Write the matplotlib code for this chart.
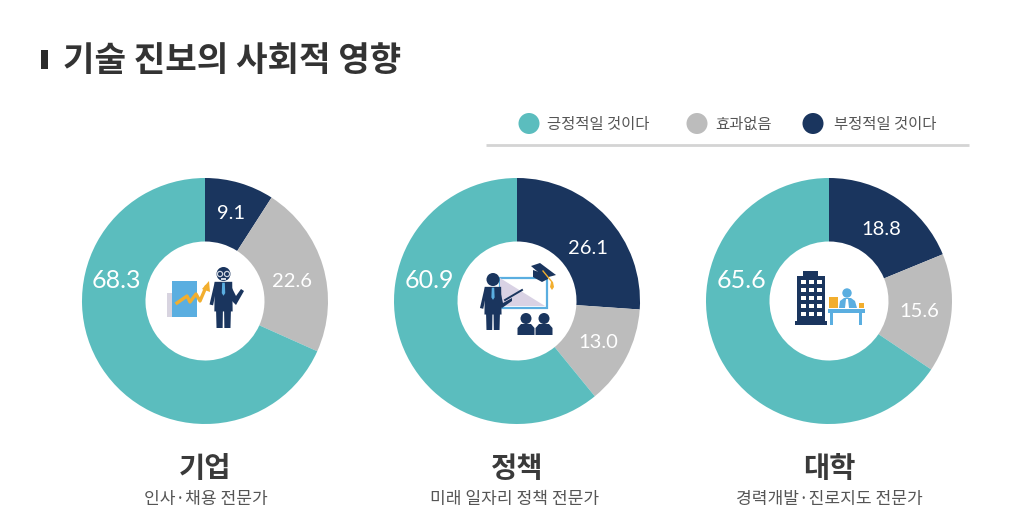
import math
import matplotlib
matplotlib.use('Agg')
import matplotlib.pyplot as plt
import matplotlib.patches as mpatches

plt.rcParams['font.family'] = ['Noto Sans CJK KR', 'DejaVu Sans']

W, H = 1023, 526
TEAL = '#5bbdbe'
GRAY = '#bcbcbc'
NAVY = '#1a355e'
BLUE = '#5aaee0'
ORANGE = '#f2ae2e'

title = '기술 진보의 사회적 영향'
legend_labels = ['긍정적일 것이다', '효과없음', '부정적일 것이다']
group_names = ['기업', '정책', '대학']
group_subs = ['인사·채용 전문가', '미래 일자리 정책 전문가', '경력개발·진로지도 전문가']
negative = [9.1, 26.1, 18.8]
neutral = [22.6, 13.0, 15.6]
positive = [68.3, 60.9, 65.6]

# label nudges in pixels, one per slice (negative, neutral, positive)
nudges = [[(0, 0), (0, 6), (0, 3)],
          [(4, 10), (0, 0), (1, 3)],
          [(2, 4), (0, 1), (1, 3)]]
sub_shift = [0.5, -2, 0]

fig = plt.figure(figsize=(W / 100, H / 100), dpi=100, facecolor='white')

# overlay in pixel coords for text and icons
bg = fig.add_axes([0, 0, 1, 1], zorder=3)
bg.set_xlim(0, W)
bg.set_ylim(H, 0)
bg.axis('off')


def rect(x0, y0, x1, y1, c, **kw):
    bg.add_patch(mpatches.Rectangle((x0, y0), x1 - x0, y1 - y0, fc=c, ec='none', **kw))


def poly(pts, c):
    bg.add_patch(mpatches.Polygon(pts, closed=True, fc=c, ec='none'))


def circle(x, y, r, c):
    bg.add_patch(mpatches.Circle((x, y), r, fc=c, ec='none'))


def person(cx, top, h, tie):
    # simple standing figure, top = top of head
    s = h / 70
    circle(cx, top + 8 * s, 8 * s, NAVY)
    poly([(cx - 10 * s, top + 17 * s), (cx + 10 * s, top + 17 * s), (cx + 10.5 * s, top + 51 * s),
          (cx + 8.5 * s, top + 51 * s), (cx + 8 * s, top + h), (cx + 1 * s, top + h), (cx + 0.7 * s, top + 51 * s),
          (cx - 0.7 * s, top + 51 * s), (cx - 1 * s, top + h), (cx - 8 * s, top + h), (cx - 8.5 * s, top + 51 * s),
          (cx - 10.5 * s, top + 51 * s)], NAVY)
    poly([(cx - 10 * s, top + 17 * s), (cx - 7 * s, top + 20 * s), (cx - 12 * s, top + 44 * s), (cx - 16 * s, top + 43 * s)], NAVY)
    poly([(cx - 1.5 * s, top + 18 * s), (cx + 1.5 * s, top + 18 * s), (cx + 2 * s, top + 30 * s), (cx, top + 33 * s), (cx - 2 * s, top + 30 * s)], tie)


# title
rect(41, 50, 48, 69, '#2b2b2b')
bg.text(63, 60, title, fontsize=24.7, fontweight='bold', color='#333333', va='center', ha='left')

# legend
legend_x = [529, 697, 813]
text_x = [547, 715, 834]
for lx, tx, c, lab in zip(legend_x, text_x, [TEAL, GRAY, NAVY], legend_labels):
    circle(lx, 123.5, 10.5, c)
    bg.text(tx, 124, lab, fontsize=11.1, color='#555555', va='center', ha='left')
bg.plot([486, 969], [144.5, 144.5], color='#d4d4d4', lw=2, solid_capstyle='butt')

# donuts
centers = [205, 517, 829]
R = 123
for i, cx in enumerate(centers):
    ax = fig.add_axes([(cx - R) / W, 1 - (301 + R) / H, 2 * R / W, 2 * R / H])
    vals = [negative[i], neutral[i], positive[i]]
    wedges, _ = ax.pie(vals, colors=[NAVY, GRAY, TEAL], startangle=90, counterclock=False, radius=1,
                       wedgeprops=dict(width=1 - 59.5 / R, linewidth=0))
    ax.set_xlim(-1, 1)
    ax.set_ylim(-1, 1)
    ax.set_aspect('equal')
    for j, (w, v) in enumerate(zip(wedges, vals)):
        a = math.radians((w.theta1 + w.theta2) / 2)
        tx, ty = 0.74 * math.cos(a), 0.74 * math.sin(a)
        if j == 2:
            tx, ty = -0.72, 0.19
        tx += nudges[i][j][0] / R
        ty -= nudges[i][j][1] / R
        ax.text(tx, ty, '%.1f' % v, fontsize=18 if j == 2 else 14.5, color='white', ha='center', va='center',
                family=['Lato', 'DejaVu Sans'])
    bg.text(cx, 469, group_names[i], fontsize=20.5, fontweight='bold', color='#3a3a3a', ha='center', va='center')
    bg.text(cx + sub_shift[i], 499, group_subs[i], fontsize=12.3, color='#555555', ha='center', va='center')

# icon 1: chart and man
rect(167, 293, 172, 317, '#d8d4e0')
rect(172, 281, 197, 317, BLUE)
bg.plot([177, 187, 190, 196, 200, 206], [303, 296, 302, 294, 301, 287], color=ORANGE, lw=2.4)
poly([(202, 289), (209, 281), (210, 292)], ORANGE)
person(223.5, 267, 61, BLUE)
poly([(231, 286), (236, 296), (241, 289), (244, 291), (236, 305), (231, 300)], NAVY)
for gx in [220, 227]:
    bg.add_patch(mpatches.Circle((gx, 274), 2.6, fc='none', ec='#cfd6e0', lw=0.9))
rect(221, 278, 226, 280, '#cfd6e0')

# icon 2: board, man, cap, students
bg.add_patch(mpatches.Rectangle((500, 278), 47, 30, fc='white', ec=BLUE, lw=1.6))
poly([(500, 278), (545, 306), (500, 306)], '#d9d2e4')
person(493, 273, 57, BLUE)
poly([(500, 290), (503, 303), (512, 298), (512, 301), (502, 308), (497, 304)], NAVY)
bg.plot([505, 522], [300, 290], color=NAVY, lw=1.4)
poly([(533, 270), (548, 275), (548, 279), (542, 282), (533, 277)], NAVY)
poly([(531, 266), (540, 263), (556, 275), (545, 278)], NAVY)
bg.plot([543, 552], [271, 282], color=ORANGE, lw=1)
poly([(551, 282), (553, 282), (554, 287), (552, 290), (550, 287)], ORANGE)
for sx in [526, 544]:
    circle(sx, 318.5, 5.5, NAVY)
    poly([(sx - 8.5, 335), (sx - 8.5, 328), (sx - 5, 324), (sx + 5, 324), (sx + 8.5, 328), (sx + 8.5, 335)], NAVY)

# icon 3: office building and desk
rect(803, 271, 818, 277, NAVY)
rect(797, 276, 825, 322, NAVY)
rect(795, 321, 827, 325, NAVY)
for r in range(5):
    for c in range(3):
        rect(801 + 8 * c, 279.5 + 8 * r, 805.5 + 8 * c, 284 + 8 * r, 'white')
rect(829, 297, 838, 308, ORANGE)
rect(859, 303, 864, 308, ORANGE)
circle(847, 293, 4.7, BLUE)
poly([(839, 308), (840, 301), (844, 298), (851, 298), (855, 301), (857, 308)], BLUE)
poly([(846, 299), (848, 299), (849, 308), (845, 308)], 'white')
rect(828, 309, 865, 313, BLUE)
rect(830, 313, 833, 325, BLUE)
rect(859, 313, 862, 325, BLUE)

fig.savefig('out.png', dpi=100, facecolor='white')
